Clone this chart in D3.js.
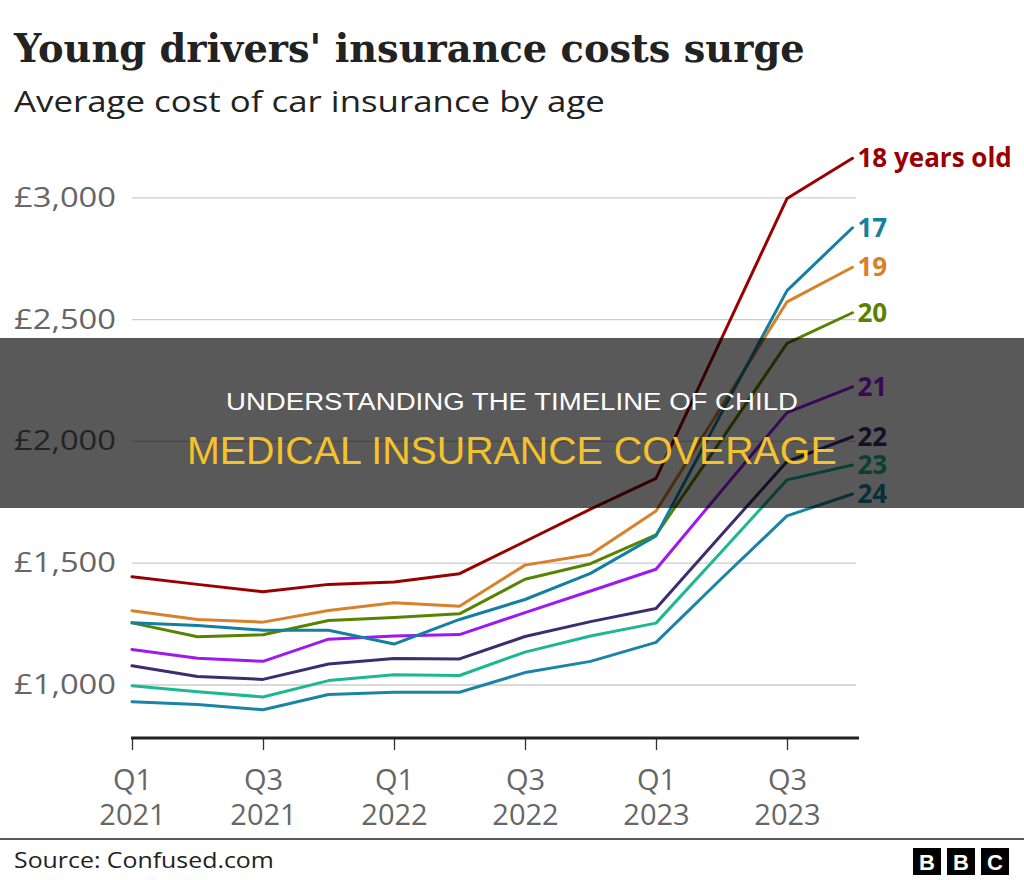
<!DOCTYPE html>
<html>
<head>
<meta charset="utf-8">
<script src="https://cdn.jsdelivr.net/npm/d3@7"></script>
<style>
  html, body { margin: 0; padding: 0; background: #fff; }
  svg { display: block; }
</style>
</head>
<body>
<svg id="chart" width="1024" height="880"></svg>
<script>
// ---- data ----
const quarters = ["Q1 2021","Q2 2021","Q3 2021","Q4 2021","Q1 2022","Q2 2022","Q3 2022","Q4 2022","Q1 2023","Q2 2023","Q3 2023","Q4 2023"];
const tickQuarters = ["Q1 2021","Q3 2021","Q1 2022","Q3 2022","Q1 2023","Q3 2023"];
const yTicks = [1000, 1500, 2000, 2500, 3000];

const age17 = [1253, 1242, 1223, 1223, 1166, 1267, 1349, 1456, 1610, 2115, 2617, 2875];
const age18 = [1442, 1411, 1381, 1411, 1421, 1455, 1587, 1720, 1846, 2420, 2995, 3160];
const age19 = [1303, 1267, 1256, 1304, 1336, 1321, 1490, 1534, 1712, 2140, 2571, 2713];
const age20 = [1253, 1196, 1204, 1263, 1275, 1290, 1432, 1496, 1614, 2005, 2400, 2526];
const age21 = [1144, 1108, 1095, 1186, 1199, 1205, 1295, 1384, 1473, 1795, 2116, 2222];
const age22 = [1077, 1033, 1021, 1084, 1107, 1105, 1197, 1258, 1312, 1615, 1915, 2017];
const age23 = [995, 970, 949, 1016, 1040, 1037, 1133, 1199, 1252, 1545, 1840, 1901];
const age24 = [929, 918, 896, 959, 968, 968, 1049, 1095, 1173, 1435, 1692, 1782];

const seriesNames = ["24", "23", "22", "21", "20", "19", "17", "18 years old"];
const seriesValues = [age24, age23, age22, age21, age20, age19, age17, age18];
const seriesColors = ["#1b84a6", "#1db893", "#3e2c70", "#9e19f0", "#588300", "#d8812a", "#1380a1", "#990000"];

const title = "Young drivers' insurance costs surge";
const subtitle = "Average cost of car insurance by age";
const source = "Source: Confused.com";
const overlayLine1 = "UNDERSTANDING THE TIMELINE OF CHILD";
const overlayLine2 = "MEDICAL INSURANCE COVERAGE";

// ---- drawing ----
const svg = d3.select("#chart");
const sans = "'Open Sans', 'Noto Sans', sans-serif";

const x = d3.scalePoint().domain(quarters).range([132, 852.5]);
const y = d3.scaleLinear().domain([1000, 3000]).range([684.5, 197.3]);
const axisY = 738;

// helper: place text starting at x0 and stretch/squeeze horizontally to a target width
function fitText(sel, x0, y0, width) {
  const w = sel.node().getComputedTextLength();
  sel.attr("x", 0).attr("y", 0)
    .attr("transform", `translate(${x0},${y0}) scale(${width / w},1)`);
  return sel;
}

// title & subtitle
fitText(svg.append("text")
  .attr("font-family", "'DejaVu Serif', 'Liberation Serif', serif")
  .attr("font-weight", "bold").attr("font-size", 40)
  .attr("fill", "#222").text(title), 14, 62, 791);
fitText(svg.append("text")
  .attr("font-family", sans).attr("font-size", 29)
  .attr("fill", "#222").text(subtitle), 14, 112, 591);

// y grid + labels
const yAxis = d3.axisLeft(y).tickValues(yTicks)
  .tickSize(-(856 - 132))
  .tickFormat(d => "£" + d3.format(",")(d));
const gy = svg.append("g").attr("transform", "translate(132,0)").call(yAxis);
gy.select(".domain").remove();
gy.selectAll(".tick line").attr("stroke", "#cccccc").attr("stroke-width", 1.3);
gy.selectAll(".tick text")
  .attr("x", -118).attr("text-anchor", "start")
  .attr("font-family", sans).attr("font-size", 28)
  .attr("textLength", 102).attr("lengthAdjust", "spacingAndGlyphs")
  .attr("fill", "#666");

// x axis
const xAxis = d3.axisBottom(x).tickValues(tickQuarters).tickSize(12).tickFormat("");
const gx = svg.append("g").attr("transform", `translate(0,${axisY})`).call(xAxis);
gx.select(".domain").remove();
gx.selectAll(".tick line").attr("stroke", "#333").attr("stroke-width", 1.3);
gx.append("line").attr("x1", 131).attr("x2", 859).attr("y1", 0).attr("y2", 0)
  .attr("stroke", "#222").attr("stroke-width", 3);
gx.selectAll(".tick").each(function(d) {
  const parts = d.split(" ");
  const t = d3.select(this);
  t.append("text").attr("y", 52).attr("text-anchor", "middle")
    .attr("font-family", sans).attr("font-size", 29).attr("fill", "#666").text(parts[0]);
  t.append("text").attr("y", 87).attr("text-anchor", "middle")
    .attr("font-family", sans).attr("font-size", 29).attr("fill", "#666").text(parts[1]);
});

// lines
const line = d3.line().x((d, i) => x(quarters[i])).y(d => y(d));
const gl = svg.append("g");
seriesValues.forEach((vals, k) => {
  gl.append("path").datum(vals).attr("d", line)
    .attr("fill", "none").attr("stroke", seriesColors[k])
    .attr("stroke-width", 3).attr("stroke-linejoin", "round").attr("stroke-linecap", "round");
  gl.append("text")
    .attr("x", x(quarters[quarters.length - 1]) + 5)
    .attr("y", y(vals[vals.length - 1])).attr("dy", "0.35em")
    .attr("font-family", sans).attr("font-weight", "bold").attr("font-size", 26)
    .attr("fill", seriesColors[k]).text(seriesNames[k]);
});

// footer
svg.append("line").attr("x1", 0).attr("x2", 1024).attr("y1", 839).attr("y2", 839)
  .attr("stroke", "#222").attr("stroke-width", 1.3);
fitText(svg.append("text")
  .attr("font-family", sans).attr("font-size", 22)
  .attr("fill", "#222").text(source), 14, 868, 260);
const logo = svg.append("g");
["B", "B", "C"].forEach((ch, i) => {
  const bx = 913 + i * 34;
  logo.append("rect").attr("x", bx).attr("y", 848).attr("width", 28).attr("height", 27).attr("fill", "#000");
  logo.append("text").attr("x", bx + 14).attr("y", 870).attr("text-anchor", "middle")
    .attr("font-family", "'Liberation Sans', sans-serif").attr("font-weight", "bold")
    .attr("font-size", 22).attr("fill", "#fff").text(ch);
});

// overlay banner
svg.append("rect").attr("x", 0).attr("y", 338).attr("width", 1024).attr("height", 170)
  .attr("fill", "rgba(0,0,0,0.65)");
fitText(svg.append("text")
  .attr("font-family", "'Liberation Sans Narrow', 'Liberation Sans', sans-serif").attr("font-size", 24)
  .attr("fill", "#ffffff").text(overlayLine1), 226, 410, 572);
fitText(svg.append("text")
  .attr("font-family", "'Liberation Sans Narrow', 'Liberation Sans', sans-serif").attr("font-size", 38)
  .attr("fill", "#f5c22c").text(overlayLine2), 187, 464, 650);
</script>
</body>
</html>
